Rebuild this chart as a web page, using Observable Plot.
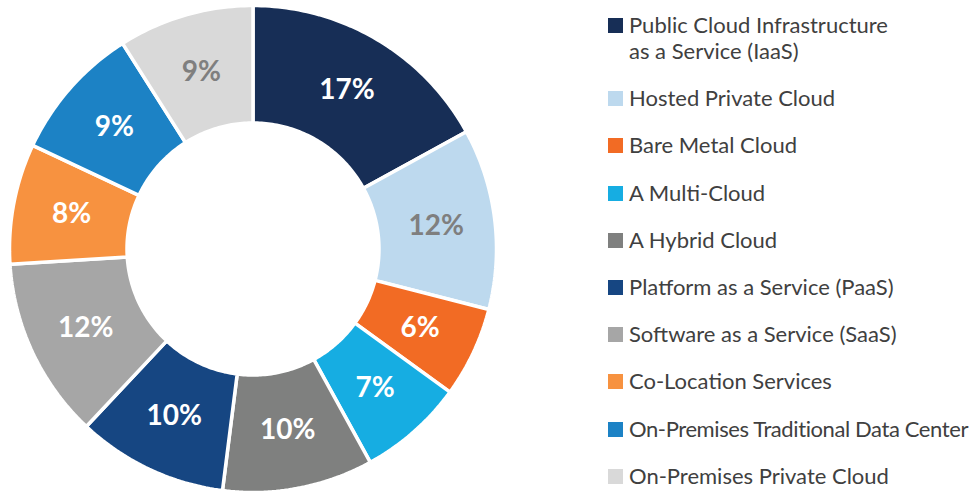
<!DOCTYPE html>
<html>
<head>
<meta charset="utf-8">
<script src="https://cdn.jsdelivr.net/npm/d3@7"></script>
<script src="https://cdn.jsdelivr.net/npm/@observablehq/plot@0.6"></script>
<style>
  html, body { margin: 0; padding: 0; background: #fff; }
  #wrap { position: relative; width: 971px; height: 493px; overflow: hidden; font-family: Lato, "Open Sans", sans-serif; }
  #legend { position: absolute; left: 608px; top: 12px; white-space: nowrap; }
  .item { display: flex; align-items: flex-start; margin-bottom: 21.2px; }
  .sw { width: 15px; height: 15px; margin-top: 6px; margin-right: 6px; flex: none; }
  .lbl { font-size: 22px; line-height: 26px; color: #404040; }
</style>
</head>
<body>
<div id="wrap"><div id="chart"></div><div id="legend"></div></div>
<script>
const categories = [
  "Public Cloud Infrastructure as a Service (IaaS)",
  "Hosted Private Cloud",
  "Bare Metal Cloud",
  "A Multi-Cloud",
  "A Hybrid Cloud",
  "Platform as a Service (PaaS)",
  "Software as a Service (SaaS)",
  "Co-Location Services",
  "On-Premises Traditional Data Center",
  "On-Premises Private Cloud"
];
const values = [17, 12, 6, 7, 10, 10, 12, 8, 9, 9];
const legendLabels = [
  "Public Cloud Infrastructure\nas a Service (IaaS)",
  "Hosted Private Cloud",
  "Bare Metal Cloud",
  "A Multi-Cloud",
  "A Hybrid Cloud",
  "Platform as a Service (PaaS)",
  "Software as a Service (SaaS)",
  "Co-Location Services",
  "On-Premises Traditional Data Center",
  "On-Premises Private Cloud"
];
const palette = ["#172e56", "#bdd9ee", "#f26b24", "#16ade2", "#7f807f", "#164682", "#a6a6a6", "#f79240", "#1c82c5", "#d9d9d9"];
const lightSlices = ["Hosted Private Cloud", "On-Premises Private Cloud"];

// geometry (unit circle coordinates)
const R0 = 126 / 243.5, R1 = 1;
const total = d3.sum(values);
let cum = 0;
const polys = [];
const labels = [];
categories.forEach((c, i) => {
  const a0 = cum / total * 2 * Math.PI;
  cum += values[i];
  const a1 = cum / total * 2 * Math.PI;
  const n = Math.max(4, Math.ceil((a1 - a0) * 180 / Math.PI));
  const pts = [];
  for (let k = 0; k <= n; k++) { const a = a0 + (a1 - a0) * k / n; pts.push({c, x: R1 * Math.sin(a), y: R1 * Math.cos(a)}); }
  for (let k = n; k >= 0; k--) { const a = a0 + (a1 - a0) * k / n; pts.push({c, x: R0 * Math.sin(a), y: R0 * Math.cos(a)}); }
  pts.push(pts[0]);
  polys.push(...pts);
  const am = (a0 + a1) / 2, rm = (R0 + R1) / 2;
  labels.push({c, v: values[i], x: rm * Math.sin(am), y: rm * Math.cos(am)});
});

const cx = 252.5, cy = 248.5, rp = 243.5;
const chart = Plot.plot({
  width: 971, height: 493,
  margin: 0,
  x: {domain: [-1, 1], range: [cx - rp, cx + rp], axis: null},
  y: {domain: [-1, 1], range: [cy + rp, cy - rp], axis: null},
  color: {domain: categories, range: palette},
  style: {fontFamily: "Lato, 'Open Sans', sans-serif", background: "white"},
  marks: [
    Plot.line(polys, {x: "x", y: "y", z: "c", fill: "c", stroke: "white", strokeWidth: 3.5, strokeLinejoin: "miter"}),
    Plot.text(labels.filter(d => !lightSlices.includes(d.c)), {x: "x", y: "y", text: d => d.v + "%", fill: "white", fontSize: 28, fontWeight: "bold"}),
    Plot.text(labels.filter(d => lightSlices.includes(d.c)), {x: "x", y: "y", text: d => d.v + "%", fill: "#7f7f7f", fontSize: 28, fontWeight: "bold"})
  ]
});
document.getElementById("chart").appendChild(chart);

const legend = document.getElementById("legend");
categories.forEach((c, i) => {
  const item = document.createElement("div");
  item.className = "item";
  const sw = document.createElement("div");
  sw.className = "sw";
  sw.style.background = palette[i];
  const lbl = document.createElement("div");
  lbl.className = "lbl";
  lbl.innerHTML = legendLabels[i].split("\n").join("<br>");
  item.appendChild(sw); item.appendChild(lbl);
  legend.appendChild(item);
  // keep the longest label inside the page
  const maxW = 971 - 608 - 21 - 3;
  const w = lbl.scrollWidth;
  if (w > maxW) {
    const chars = legendLabels[i].length;
    lbl.style.letterSpacing = (-(w - maxW) / chars).toFixed(2) + "px";
  }
});
</script>
</body>
</html>
